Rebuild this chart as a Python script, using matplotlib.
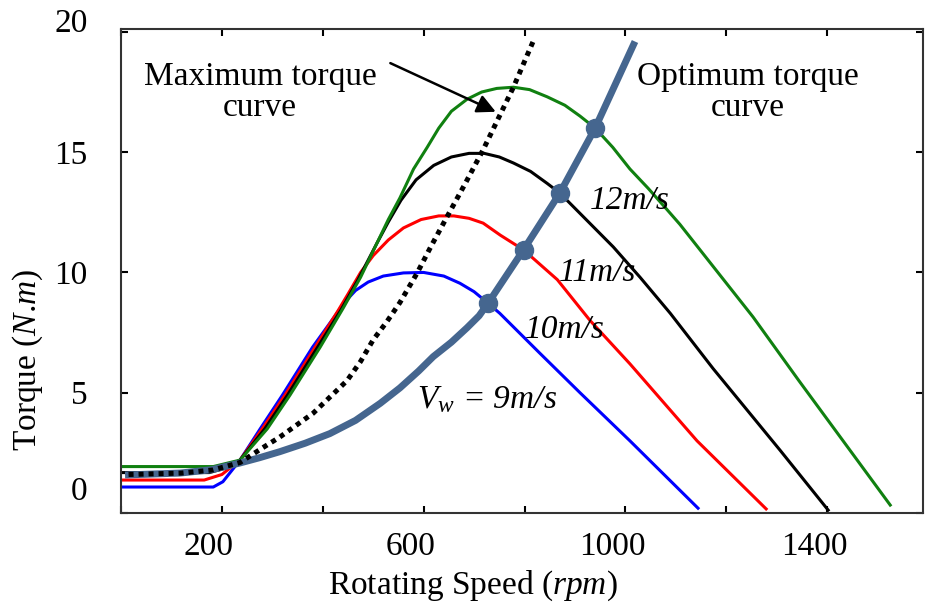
import matplotlib
matplotlib.use('Agg')
import matplotlib.pyplot as plt
import matplotlib.transforms as mtransforms

plt.rcParams['font.family'] = 'Liberation Serif'
plt.rcParams['mathtext.fontset'] = 'custom'
plt.rcParams['mathtext.rm'] = 'Liberation Serif'
plt.rcParams['mathtext.it'] = 'Liberation Serif:italic'

# torque vs speed curves for each wind speed
speed_9 = [0, 183, 202, 236, 276, 320, 380, 428, 445, 465, 490, 520, 560, 600, 640, 672, 700, 726, 751, 830, 910, 1009, 1144]
torque_9 = [1.08, 1.08, 1.3, 2.2, 3.5, 4.9, 6.9, 8.3, 8.8, 9.25, 9.6, 9.85, 9.98, 10.0, 9.85, 9.55, 9.2, 8.75, 8.3, 6.65, 5.0, 3.0, 0.2]

speed_10 = [0, 165, 200, 236, 280, 325, 385, 430, 450, 475, 500, 530, 560, 595, 630, 660, 690, 718, 752, 798, 865, 930, 1009, 1142, 1279]
torque_10 = [1.37, 1.37, 1.6, 2.2, 3.5, 4.9, 6.9, 8.4, 9.1, 10.0, 10.7, 11.35, 11.85, 12.2, 12.35, 12.35, 12.25, 12.05, 11.55, 10.94, 9.7, 8.0, 6.2, 3.0, 0.17]

speed_11 = [0, 175, 205, 236, 285, 330, 390, 435, 470, 507, 530, 555, 585, 620, 655, 690, 720, 750, 778, 812, 845, 870, 976, 1029, 1089, 1174, 1307, 1402]
torque_11 = [1.68, 1.68, 1.85, 2.2, 3.5, 4.9, 6.9, 8.4, 9.7, 11.2, 12.1, 13.0, 13.85, 14.45, 14.8, 14.95, 14.95, 14.8, 14.55, 14.2, 13.7, 13.3, 11.06, 9.8, 8.3, 6.0, 2.6, 0.12]

speed_12 = [0, 183, 236, 290, 335, 395, 440, 475, 507, 530, 553, 580, 607, 630, 655, 686, 715, 745, 778, 810, 845, 880, 910, 940, 975, 1009, 1045, 1083, 1108, 1253, 1344, 1525]
torque_12 = [1.93, 1.93, 2.2, 3.5, 4.9, 6.9, 8.5, 9.8, 11.2, 12.2, 13.1, 14.3, 15.2, 16.0, 16.7, 17.2, 17.5, 17.65, 17.7, 17.6, 17.3, 16.95, 16.5, 16.0, 15.2, 14.3, 13.5, 12.6, 12.0, 8.15, 5.5, 0.33]

max_speed = [15, 120, 183, 236, 280, 315, 381, 448, 475, 500, 527, 553, 587, 615, 646, 680, 718, 748, 778, 817]
max_torque = [1.6, 1.66, 1.79, 2.1, 2.7, 3.16, 4.15, 5.5, 6.3, 7.2, 7.95, 8.75, 9.97, 11.1, 12.3, 13.6, 15.1, 16.4, 17.7, 19.6]

opt_speed = [8, 117, 180, 236, 275, 315, 365, 414, 465, 514, 553, 590, 619, 655, 686, 710, 728, 798, 870, 940, 1019]
opt_torque = [1.58, 1.66, 1.8, 2.08, 2.3, 2.55, 2.9, 3.3, 3.85, 4.56, 5.2, 5.9, 6.5, 7.1, 7.7, 8.2, 8.73, 10.94, 13.3, 16.0, 19.6]

# operating points where optimum curve meets each wind curve
op_speed = [728, 798, 870, 940]
op_torque = [8.73, 10.94, 13.3, 16.0]

x_ticks = [0, 200, 400, 600, 800, 1000, 1200, 1400]
x_labels = ['', '200', '', '600', '', '1000', '', '1400']
y_ticks = [0, 5, 10, 15, 20]
y_labels = ['0', '5', '10', '15', '20']

fig = plt.figure(figsize=(9.27, 6.03), dpi=100)
ax = fig.add_axes([121 / 927, 90 / 603, 802 / 927, 484 / 603])

ax.plot(speed_9, torque_9, color='#0000ff', lw=2.2)
ax.plot(speed_10, torque_10, color='#ff0000', lw=2.2)
ax.plot(speed_11, torque_11, color='black', lw=2.2)
ax.plot(speed_12, torque_12, color='#108010', lw=2.2)
ax.plot(opt_speed, opt_torque, color='#45668f', lw=5, solid_capstyle='butt')
ax.plot(max_speed, max_torque, color='black', lw=3.6, linestyle=(0, (1, 1)))
ax.plot(op_speed, op_torque, 'o', color='#45668f', markersize=13)

ax.set_xlim(0, 1590)
ax.set_ylim(0, 20.12)
ax.set_xticks(x_ticks)
ax.set_xticklabels(x_labels)
ax.set_yticks(y_ticks)
ax.set_yticklabels(y_labels)
ax.tick_params(direction='in', length=5, width=1.5, top=True, right=True, labelsize=24)
ax.tick_params(axis='x', pad=13)
ax.tick_params(axis='y', pad=24)
for s in ax.spines.values():
    s.set_color('#333333')
    s.set_linewidth(1.5)

# the original tick labels sit a bit off their ticks
for lbl in ax.get_xticklabels():
    lbl.set_transform(lbl.get_transform() + mtransforms.ScaledTranslation(-0.13, 0, fig.dpi_scale_trans))
y_shift = {'0': 0.25, '20': 0.12}
for lbl in ax.get_yticklabels():
    dy = y_shift.get(lbl.get_text(), 0)
    lbl.set_transform(lbl.get_transform() + mtransforms.ScaledTranslation(0, dy, fig.dpi_scale_trans))

ax.set_xlabel('Rotating Speed ($rpm$)', fontsize=24)
ax.xaxis.set_label_coords(0.439, -0.114)
ax.set_ylabel('Torque ($N$.$m$)', fontsize=24)
ax.yaxis.set_label_coords(-0.095, 0.316)

ax.text(276, 17.5, 'Maximum torque\ncurve', fontsize=24, ha='center', va='center', linespacing=1.0)
ax.annotate('', xy=(748, 16.63), xytext=(529, 18.75),
            arrowprops=dict(arrowstyle='-|>', color='black', lw=1.8, mutation_scale=28))
ax.text(1243, 17.5, 'Optimum torque\ncurve', fontsize=24, ha='center', va='center', linespacing=1.0)

ax.text(930, 13.0, '12m/s', fontsize=24, style='italic', ha='left', va='center')
ax.text(867, 9.98, '11m/s', fontsize=24, style='italic', ha='left', va='center')
ax.text(801, 7.6, '10m/s', fontsize=24, style='italic', ha='left', va='center')
ax.text(587, 4.7, '$V_w$ = 9m/s', fontsize=24, style='italic', ha='left', va='center')

fig.savefig('out.png', dpi=100)
